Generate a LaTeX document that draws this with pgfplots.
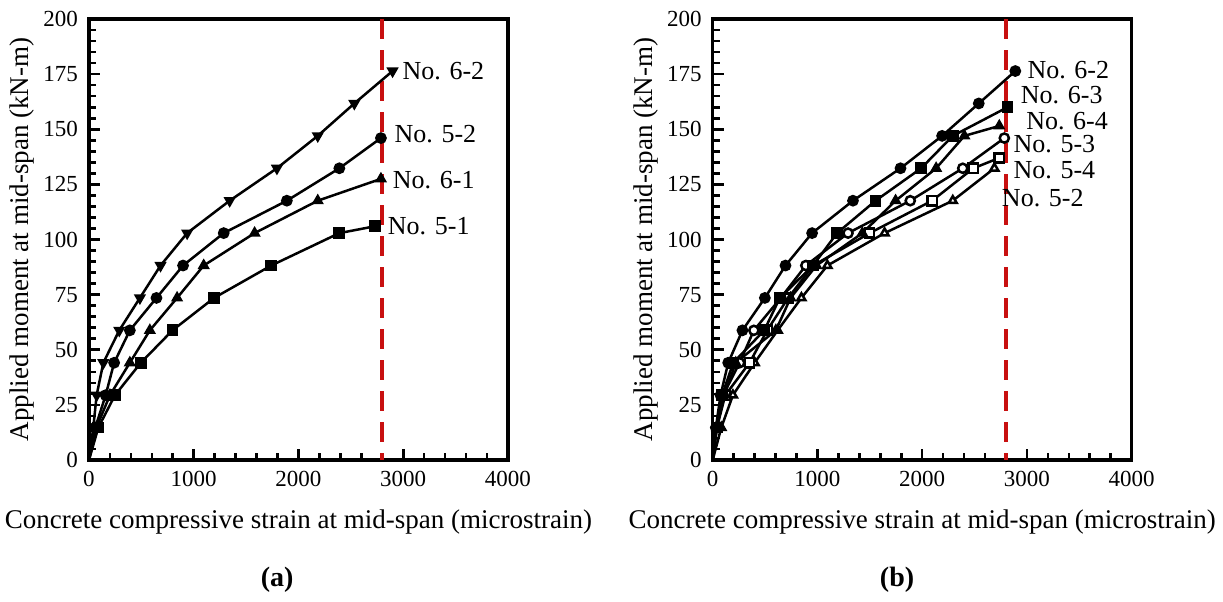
\documentclass[border=0pt]{standalone}
\usepackage{fontspec}
\setmainfont{Liberation Serif}
\usepackage{pgfplots}
\pgfplotsset{compat=1.18}
\definecolor{dred}{RGB}{200,16,16}
\pgfplotsset{
  myaxis/.style={
    scale only axis, width=209.5pt, height=220.5pt,
    anchor=south west,
    xmin=0,xmax=4000,ymin=0,ymax=200,
    xtick={0,1000,...,4000}, ytick={0,25,...,200},
    minor x tick num=4, minor y tick num=4,
    tick align=inside, xtick pos=bottom, ytick pos=left,
    major tick length=5.5pt, minor tick length=3.5pt,
    every tick/.append style={black, line width=1.3pt},
    axis line style={line width=1.6pt},
    tick label style={font=\fontsize{11.5}{12}\selectfont},
    xticklabel style={yshift=-2pt},
    yticklabel style={xshift=-2pt},
    /pgf/number format/assume math mode=true,
    /pgf/number format/1000 sep={},
    scaled x ticks=false,
    label style={font=\fontsize{13.5}{14}\selectfont},
    xlabel style={at={(axis description cs:0.5,-0.14)},anchor=center},
    ylabel style={at={(axis description cs:-0.16,0.5)},anchor=center},
    xlabel={Concrete compressive strain at mid-span (microstrain)},
    ylabel={Applied moment at mid-span (kN-m)},
    clip=false,
    every axis plot/.append style={line width=1.25pt, black, mark size=2.3pt, mark indices={2,...,14}},
  },
}
\tikzset{
  lab/.style={anchor=west, inner sep=0pt, font=\fontsize{13}{13}\selectfont},
  captxt/.style={font=\bfseries\fontsize{14}{14}\selectfont},
}
\begin{document}
\begin{tikzpicture}
\useasboundingbox (-44.5pt,-70.5pt) rectangle (567pt,230pt);
% ---------- (a) ----------
\begin{axis}[myaxis, at={(0pt,0pt)}]
\addplot[dred, line width=1.8pt, dash pattern=on 10pt off 5.5pt, mark=none] coordinates {(2800,200) (2800,0)};
% No. 5-1
\addplot[mark=square*, mark options={fill=black, solid}] coordinates {
(0,0) (89,14.7) (248,29.4) (495,44.1) (797,58.8) (1194,73.5) (1740,88.2) (2390,102.9) (2730,106)};
% No. 6-1
\addplot[mark=triangle*, mark options={fill=black, solid}] coordinates {
(0,0) (70,14.7) (200,29.4) (390,44.1) (581,58.8) (841,73.5) (1095,88.2) (1581,102.9) (2184,117.6) (2787,127.5)};
% No. 5-2
\addplot[mark=*, mark options={fill=black, solid}] coordinates {
(0,0) (60,14.7) (159,29.4) (240,44.1) (390,58.8) (644,73.5) (898,88.2) (1286,102.9) (1889,117.6) (2390,132.3) (2787,146)};
% No. 6-2
\addplot[mark=triangle*, mark options={fill=black, solid, rotate=180}] coordinates {
(0,0) (41,14.7) (73,29.4) (137,44.1) (289,58.8) (486,73.5) (683,88.2) (937,102.9) (1343,117.6) (1794,132.3) (2184,147) (2533,161.7) (2898,176.4)};
\node[lab] at (axis cs:2990,176.5) {No. 6-2};
\node[lab] at (axis cs:2914,147.7) {No. 5-2};
\node[lab] at (axis cs:2898,127) {No. 6-1};
\node[lab] at (axis cs:2850,106) {No. 5-1};
\node[captxt] at (axis description cs:0.449,-0.272) {(a)};
\end{axis}
% ---------- (b) ----------
\begin{axis}[myaxis, at={(311.85pt,0pt)}]
\addplot[dred, line width=1.8pt, dash pattern=on 10pt off 5.5pt, mark=none] coordinates {(2800,200) (2800,0)};
% No. 5-2 open triangles
\addplot[mark=triangle*, mark options={fill=white, solid}] coordinates {
(0,0) (82,14.7) (193,29.4) (400,44.1) (620,58.8) (847,73.5) (1095,88.2) (1641,102.9) (2292,117.6) (2689,132.3)};
% No. 5-4 open squares
\addplot[mark=square*, mark options={fill=white, solid}] coordinates {
(0,0) (40,14.7) (120,29.4) (352,44.1) (520,58.8) (720,73.5) (960,88.2) (1498,102.9) (2095,117.6) (2488,132.3) (2736,137)};
% No. 5-3 open circles
\addplot[mark=*, mark options={fill=white, solid}] coordinates {
(0,0) (35,14.7) (100,29.4) (257,44.1) (393,58.8) (650,73.5) (889,88.2) (1292,102.9) (1886,117.6) (2387,132.3) (2784,146)};
% No. 6-4 filled triangles
\addplot[mark=triangle*, mark options={fill=black, solid}] coordinates {
(0,0) (40,14.7) (110,29.4) (220,44.1) (603,58.8) (743,73.5) (990,88.2) (1429,102.9) (1746,117.6) (2133,132.3) (2403,147) (2736,151.5)};
% No. 6-3 filled squares
\addplot[mark=square*, mark options={fill=black, solid}] coordinates {
(0,0) (35,14.7) (90,29.4) (196,44.1) (492,58.8) (641,73.5) (958,88.2) (1187,102.9) (1555,117.6) (1990,132.3) (2292,147) (2815,160)};
% No. 6-2 filled circles
\addplot[mark=*, mark options={fill=black, solid}] coordinates {
(0,0) (30,14.7) (75,29.4) (148,44.1) (284,58.8) (498,73.5) (695,88.2) (949,102.9) (1339,117.6) (1793,132.3) (2190,147) (2540,161.7) (2889,176.4)};
\node[lab] at (axis cs:3002,177) {No. 6-2};
\node[lab] at (axis cs:2939,165.6) {No. 6-3};
\node[lab] at (axis cs:2990,153.8) {No. 6-4};
\node[lab] at (axis cs:2869,143.2) {No. 5-3};
\node[lab] at (axis cs:2869,131.5) {No. 5-4};
\node[lab] at (axis cs:2758,118.6) {No. 5-2};
\node[captxt] at (axis description cs:0.44,-0.272) {(b)};
\end{axis}
\end{tikzpicture}
\end{document}
